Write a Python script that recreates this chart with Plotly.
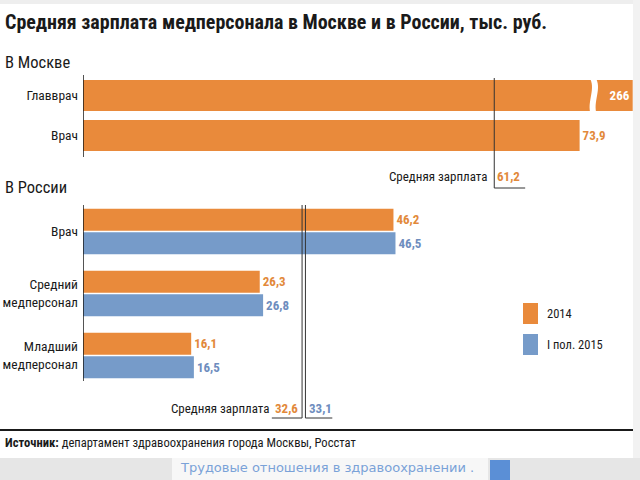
import plotly.graph_objects as go

# --- data -------------------------------------------------------------
moscow_roles = ["Главврач", "Врач"]
moscow_salary = [266, 73.9]
moscow_avg = 61.2

russia_roles = ["Врач", "Средний<br>медперсонал", "Младший<br>медперсонал"]
russia_2014 = [46.2, 26.3, 16.1]
russia_2015 = [46.5, 26.8, 16.5]
russia_avg_2014 = 32.6
russia_avg_2015 = 33.1

series_names = ["2014", "I пол. 2015"]

title = "Средняя зарплата медперсонала в Москве и в России, тыс. руб."
source = "<b>Источник:</b> департамент здравоохранения города Москвы, Росстат"
footer = "Трудовые отношения в здравоохранении ."

# --- style ------------------------------------------------------------
W, H = 640, 480
ORANGE = "#E98A3B"
BLUE = "#769BC9"
ORANGE_TXT = "#E2893A"
BLUE_TXT = "#6E8DBE"
INK = "#1a1a1a"
NARROW = "Roboto Condensed, DejaVu Sans Condensed, Arial Narrow, sans-serif"

X0_PX = 83          # where the value axis starts
PX_PER_UNIT = 6.72  # scale
BREAK_LEN = 81.8    # drawn length of the broken (266) bar


def fmt(v):
    return f"{v:g}".replace(".", ",") if v != int(v) else str(int(v))


def px(x):
    return x / W


def py(y):
    return 1 - y / H


def xv(xpix):
    return (xpix - X0_PX) / PX_PER_UNIT


def note(x, y, text, size, color=INK, xanchor="left", xref="paper", xshift=0, family=NARROW):
    return dict(x=x, y=y, xref=xref, yref="paper", xanchor=xanchor, yanchor="middle",
                xshift=xshift, text=text, showarrow=False,
                font=dict(size=size, color=color, family=family))


fig = go.Figure()

# Moscow bars (the first one is broken)
fig.add_trace(go.Bar(
    y=moscow_roles, x=[BREAK_LEN if v > BREAK_LEN else v for v in moscow_salary],
    orientation="h", yaxis="y2", width=0.78,
    marker=dict(color=ORANGE, line_width=0),
    text=[fmt(v) for v in moscow_salary],
    textposition=["inside" if v > BREAK_LEN else "outside" for v in moscow_salary],
    insidetextanchor="end",
    insidetextfont=dict(color="white", size=13, family=NARROW),
    outsidetextfont=dict(color=ORANGE_TXT, size=13, family=NARROW),
    texttemplate="<b>%{text}</b>",
    constraintext="none", cliponaxis=False, showlegend=False, hoverinfo="skip",
))

# Russia bars
for vals, col, tcol, name in [(russia_2014, ORANGE, ORANGE_TXT, series_names[0]),
                              (russia_2015, BLUE, BLUE_TXT, series_names[1])]:
    fig.add_trace(go.Bar(
        y=russia_roles, x=vals, orientation="h", name=name, yaxis="y",
        marker=dict(color=col, line_width=0),
        text=[fmt(v) for v in vals], textposition="outside",
        texttemplate="<b>%{text}</b>",
        outsidetextfont=dict(color=tcol, size=13, family=NARROW),
        constraintext="none", cliponaxis=False, showlegend=False, hoverinfo="skip",
    ))

shapes = []
ann = []

# frame bits of the screenshot
shapes.append(dict(type="rect", xref="paper", yref="paper", x0=px(0), x1=px(W), y0=py(0), y1=py(4),
                   fillcolor="#eeeeee", line_width=0, layer="below"))
shapes.append(dict(type="rect", xref="paper", yref="paper", x0=px(633), x1=px(W), y0=py(0), y1=py(458),
                   fillcolor="#f2f2f2", line_width=0, layer="below"))
shapes.append(dict(type="rect", xref="paper", yref="paper", x0=px(0), x1=px(W), y0=py(458), y1=py(H),
                   fillcolor="#e6e6e6", line_width=0, layer="below"))
shapes.append(dict(type="rect", xref="paper", yref="paper", x0=px(172), x1=px(488), y0=py(458), y1=py(H),
                   fillcolor="#f7f7f7", line_width=0, layer="below"))
shapes.append(dict(type="rect", xref="paper", yref="paper", x0=px(490), x1=px(510), y0=py(460), y1=py(H),
                   fillcolor="#5b8fd6", line_width=0))

# axis lines
shapes.append(dict(type="line", xref="x", yref="paper", x0=0, x1=0, y0=py(75), y1=py(157),
                   line=dict(color=INK, width=1.5)))
shapes.append(dict(type="line", xref="x", yref="paper", x0=0, x1=0, y0=py(205), y1=py(381),
                   line=dict(color=INK, width=1.5)))


# break in the 266 bar
def pp(xpix, ypix):
    return f"{px(xpix):.5f},{py(ypix):.5f}"


brk = (f"M {pp(589, 77)} C {pp(597, 88)} {pp(586, 102)} {pp(591, 115)} "
       f"L {pp(597, 115)} C {pp(592, 102)} {pp(603, 88)} {pp(595, 77)} Z")
shapes.append(dict(type="path", xref="paper", yref="paper", path=brk,
                   fillcolor="white", line_width=0))

# Moscow average
shapes.append(dict(type="line", xref="x", yref="paper", x0=moscow_avg, x1=moscow_avg,
                   y0=py(78), y1=py(188), line=dict(color="#333", width=1)))
shapes.append(dict(type="line", xref="x", yref="paper", x0=moscow_avg, x1=moscow_avg + 4.6,
                   y0=py(188), y1=py(188), line=dict(color="#333", width=1)))
ann.append(note(moscow_avg, py(176), "Средняя зарплата", 13, xanchor="right", xref="x", xshift=-5))
ann.append(note(moscow_avg, py(176), f"<b>{fmt(moscow_avg)}</b>", 13, ORANGE_TXT, xref="x", xshift=1))

# Russia averages (double line)
for v in (russia_avg_2014, russia_avg_2015):
    shapes.append(dict(type="line", xref="x", yref="paper", x0=v, x1=v, y0=py(205), y1=py(418),
                       line=dict(color="#333", width=1)))
shapes.append(dict(type="line", xref="x", yref="paper", x0=russia_avg_2014 - 4.5, x1=russia_avg_2014,
                   y0=py(418), y1=py(418), line=dict(color="#333", width=1)))
shapes.append(dict(type="line", xref="x", yref="paper", x0=russia_avg_2015, x1=russia_avg_2015 + 4.0,
                   y0=py(418), y1=py(418), line=dict(color="#333", width=1)))
ann.append(note(russia_avg_2014, py(408), "Средняя зарплата", 13, xanchor="right", xref="x", xshift=-31))
ann.append(note(russia_avg_2014, py(408), f"<b>{fmt(russia_avg_2014)}</b>", 13, ORANGE_TXT,
                xanchor="right", xref="x", xshift=-2))
ann.append(note(russia_avg_2015, py(408), f"<b>{fmt(russia_avg_2015)}</b>", 13, BLUE_TXT,
                xref="x", xshift=2))

# legend
for i, (name, col) in enumerate(zip(series_names, [ORANGE, BLUE])):
    top = 303 + i * 31
    shapes.append(dict(type="rect", xref="paper", yref="paper", x0=px(523), x1=px(538),
                       y0=py(top), y1=py(top + 21), fillcolor=col, line_width=0))
    ann.append(note(px(545), py(top + 10.5), name, 12.5))

# titles and notes
ann.append(note(px(3), py(22), f"<b>{title}</b>", 20))
ann.append(note(px(3), py(63), "В Москве", 16.5))
ann.append(note(px(3), py(188), "В России", 16.5))
shapes.append(dict(type="line", xref="paper", yref="paper", x0=px(0), x1=px(633), y0=py(430), y1=py(430),
                   line=dict(color=INK, width=2)))
ann.append(note(px(3), py(442), source, 12.6))
ann.append(note(px(178), py(467), footer, 13, "#7aa2d8", family="DejaVu Sans, sans-serif"))

fig.update_layout(
    width=W, height=H, margin=dict(l=0, r=0, t=0, b=0),
    paper_bgcolor="white", plot_bgcolor="rgba(0,0,0,0)",
    barmode="group", bargap=0.242, bargroupgap=0.064,
    xaxis=dict(domain=[px(X0_PX), 1], range=[0, xv(W)], visible=False, fixedrange=True),
    yaxis=dict(domain=[py(386.5), py(200.5)], anchor="x", type="category", range=[2.5, -0.5],
               showline=False, showgrid=False, zeroline=False, ticks="", ticklabelstandoff=4,
               tickfont=dict(size=13.5, color=INK, family=NARROW)),
    yaxis2=dict(domain=[py(155.5), py(75.5)], anchor="x", type="category", range=[1.5, -0.5],
                showline=False, showgrid=False, zeroline=False, ticks="", ticklabelstandoff=4,
                tickfont=dict(size=13.5, color=INK, family=NARROW)),
    shapes=shapes, annotations=ann,
)

fig.write_html("out.html", config={"displayModeBar": False},
               post_script="document.body.style.margin='0';")
